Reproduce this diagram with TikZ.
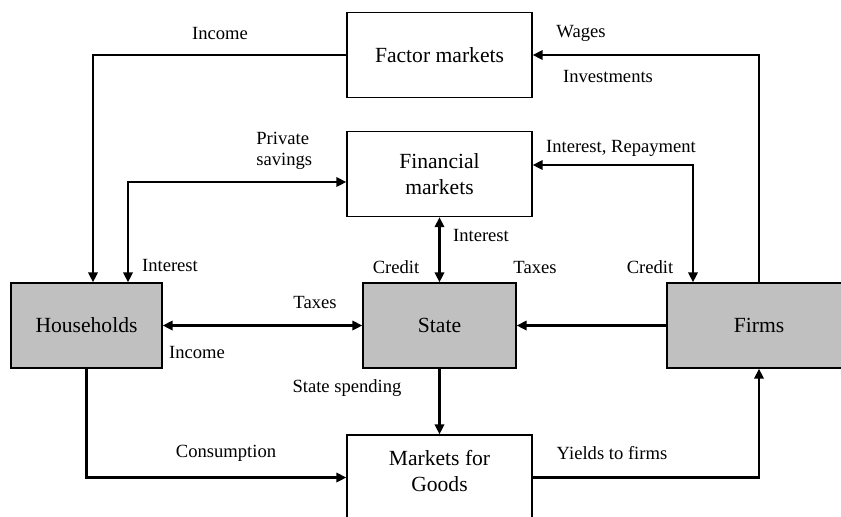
\documentclass[tikz,border=0pt]{standalone}
\usepackage{fontspec}
\setmainfont{Liberation Serif}
\usetikzlibrary{arrows.meta,positioning}

\begin{document}
\begin{tikzpicture}[y=-0.5pt,x=0.5pt,
	box/.style={draw,line width=0.6pt,minimum width=92.5pt,minimum height=42.5pt,inner sep=0pt,align=center,font=\fontsize{10.8}{13}\selectfont},
	agent/.style={box,fill={rgb,255:red,192;green,192;blue,192}},
	flow/.style={line width=1.4pt,-{Triangle[length=5pt,width=4.6pt]}},
	both/.style={line width=1.4pt,{Triangle[length=5pt,width=4.6pt]}-{Triangle[length=5pt,width=4.6pt]}},
	lbl/.style={font=\fontsize{9.3}{10.8}\selectfont,inner sep=0pt,align=left}]
	\useasboundingbox (0,0) rectangle (841,516);
	\clip (0,0) rectangle (841,516);

	% markets
	\node[box] (fac) at (439.5,55) {Factor markets};
	\node[box] (fin) at (439.5,174) {Financial\\markets};
	\node[box] (goods) at (439.5,477.5) {Markets for\\Goods\\[-6pt]\mbox{}};

	% agents
	\node[agent,minimum width=75.5pt] (hh) at (86.5,325.5) {Households};
	\node[agent,minimum width=76.5pt] (state) at (439.5,325.5) {State};
	\node[agent,minimum width=92pt] (firms) at (759,325.5) {Firms};

	% flows
	\draw[flow] (fac.west) -| ([xshift=3.25pt]hh.north);
	\draw[both] ([yshift=-4pt]fin.west) -| ([xshift=20.75pt]hh.north);
	\draw[both] (fin.south) -- (state.north);
	\draw[both] ([yshift=4.5pt]fin.east) -| ([xshift=-33pt]firms.north);
	\draw[flow] (firms.north) |- (fac.east);
	\draw[both] (hh.east) -- (state.west);
	\draw[flow] (firms.west) -- (state.east);
	\draw[flow] (state.south) -- (goods.north);
	\draw[flow] (hh.south) |- (goods.west);
	\draw[flow] (goods.east) -| (firms.south);

	% labels
	\node[lbl] (lIncA) at (220,33) {Income};
	\node[lbl,anchor=west] (lSav) at (256,151) {Private\\savings};
	\node[lbl] (lIntA) at (170,265) {Interest};
	\node[lbl] (lIntB) at (481,235) {Interest};
	\node[lbl] (lCreA) at (396,267) {Credit};
	\node[lbl] (lTaxA) at (535,267) {Taxes};
	\node[lbl] (lCreB) at (650,267) {Credit};
	\node[lbl] (lRep) at (621,148) {Interest, Repayment};
	\node[lbl] (lWag) at (581,33) {Wages};
	\node[lbl] (lInv) at (608,76) {Investments};
	\node[lbl] (lTaxB) at (315,302) {Taxes};
	\node[lbl] (lIncB) at (197,352) {Income};
	\node[lbl] (lSpend) at (347,388) {State spending};
	\node[lbl] (lCons) at (226,453) {Consumption};
	\node[lbl] (lYld) at (612,453) {Yields to firms};
\end{tikzpicture}
\end{document}
